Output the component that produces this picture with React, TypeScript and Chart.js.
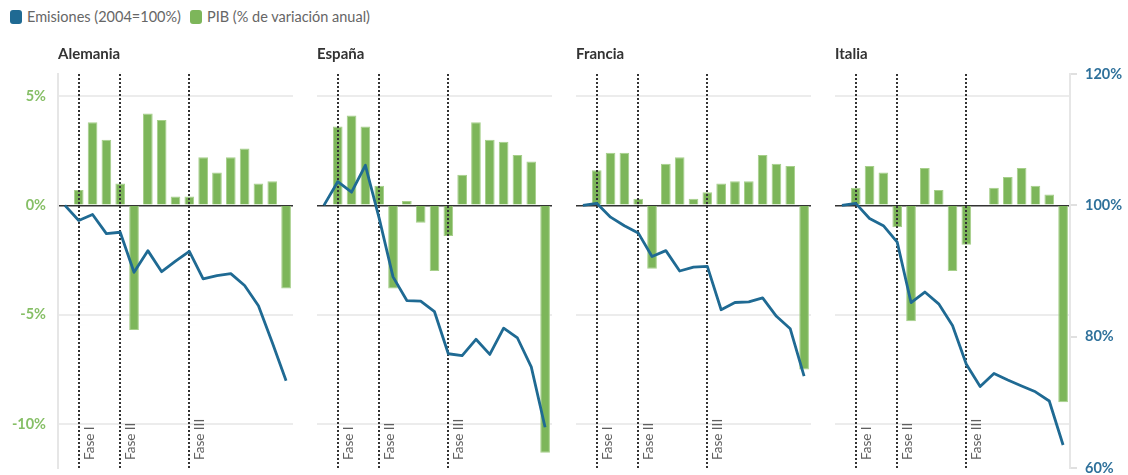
import React, { useEffect, useRef } from 'react';
import { Chart, registerables } from 'chart.js';

Chart.register(...registerables);

const years = ['2004', '2005', '2006', '2007', '2008', '2009', '2010', '2011', '2012', '2013', '2014', '2015', '2016', '2017', '2018', '2019', '2020'];
const countries = ['Alemania', 'España', 'Francia', 'Italia'];

const gdpAlemania = [null, 0.7, 3.8, 3.0, 1.0, -5.7, 4.2, 3.9, 0.4, 0.4, 2.2, 1.5, 2.2, 2.6, 1.0, 1.1, -3.8];
const gdpEspana = [null, 3.6, 4.1, 3.6, 0.9, -3.8, 0.2, -0.8, -3.0, -1.4, 1.4, 3.8, 3.0, 2.9, 2.3, 2.0, -11.3];
const gdpFrancia = [null, 1.6, 2.4, 2.4, 0.3, -2.9, 1.9, 2.2, 0.3, 0.6, 1.0, 1.1, 1.1, 2.3, 1.9, 1.8, -7.5];
const gdpItalia = [null, 0.8, 1.8, 1.5, -1.0, -5.3, 1.7, 0.7, -3.0, -1.8, 0.0, 0.8, 1.3, 1.7, 0.9, 0.5, -9.0];

const emiAlemania = [100, 97.7, 98.6, 95.7, 95.9, 89.8, 93.1, 89.9, 91.5, 93.0, 88.8, 89.3, 89.6, 87.8, 84.7, 79.1, 73.3];
const emiEspana = [100, 103.6, 102.0, 106.1, 98.0, 89.1, 85.5, 85.4, 83.8, 77.4, 77.1, 79.6, 77.3, 81.3, 79.8, 75.4, 66.2];
const emiFrancia = [100, 100.3, 98.2, 96.9, 95.8, 92.2, 93.1, 90.0, 90.6, 90.7, 84.1, 85.2, 85.3, 85.9, 83.1, 81.2, 74.0];
const emiItalia = [100, 100.3, 98.0, 96.9, 94.4, 85.2, 86.8, 85.0, 81.7, 75.8, 72.4, 74.4, 73.4, 72.5, 71.6, 70.2, 63.5];

const gdpSeries = [gdpAlemania, gdpEspana, gdpFrancia, gdpItalia];
const emiSeries = [emiAlemania, emiEspana, emiFrancia, emiItalia];

const phaseYears = ['2005', '2008', '2013'];
const phaseLabels = ['Fase I', 'Fase II', 'Fase III'];

const gdpTicks = [-10, -5, 0, 5];
const gdpMin = -12;
const gdpMax = 6;
const emiMin = 60;
const emiMax = 120;
const emiStep = 20;

const FONT = 'Lato, "Open Sans", "DejaVu Sans", sans-serif';
const BLUE = '#1f6a93';
const GREEN = '#7db65a';
const GREEN_EDGE = '#a6cf8a';
const GREEN_LABEL = '#86bf66';
const BLUE_LABEL = '#2f719b';

const PLOT_W = 235;
const AXIS_W = 58;
const plotLefts = [58, 317, 576, 835];

const zeroPadding = (s: any) => {
  s.paddingTop = 0;
  s.paddingBottom = 0;
  s.paddingLeft = 0;
  s.paddingRight = 0;
};

const panelPlugin = {
  id: 'panel',
  afterDatasetDraw(chart: any, args: any) {
    if (args.meta.type !== 'bar') return;
    const ctx = chart.ctx;
    const { top, bottom } = chart.chartArea;
    const xs = chart.scales.x;
    ctx.save();
    phaseYears.forEach((yr, i) => {
      const x = Math.round(xs.getPixelForValue(years.indexOf(yr)));
      ctx.beginPath();
      ctx.setLineDash([2, 2]);
      ctx.strokeStyle = '#333';
      ctx.lineWidth = 2;
      ctx.moveTo(x, top);
      ctx.lineTo(x, bottom);
      ctx.stroke();
      ctx.setLineDash([]);
      ctx.save();
      ctx.translate(x + 14.5, bottom - 8);
      ctx.rotate(-Math.PI / 2);
      ctx.font = '13.5px ' + FONT;
      ctx.fillStyle = '#5f5f5f';
      ctx.textAlign = 'left';
      ctx.textBaseline = 'alphabetic';
      ctx.fillText(phaseLabels[i], 0, 0);
      ctx.restore();
    });
    ctx.restore();
  },
  afterDraw(chart: any, _args: any, opts: any) {
    const ctx = chart.ctx;
    ctx.save();
    ctx.font = 'bold 15px ' + FONT;
    ctx.fillStyle = '#333';
    ctx.textAlign = 'left';
    ctx.textBaseline = 'alphabetic';
    ctx.fillText(opts.title, chart.chartArea.left, 59);
    ctx.restore();
  },
};

function Panel({ index }: { index: number }) {
  const ref = useRef<HTMLCanvasElement>(null);
  const first = index === 0;
  const last = index === countries.length - 1;
  const width = PLOT_W + (first ? AXIS_W : 0) + (last ? AXIS_W : 0);
  const left = first ? plotLefts[index] - AXIS_W : plotLefts[index];

  useEffect(() => {
    const chart = new Chart(ref.current!, {
      type: 'bar',
      data: {
        labels: years,
        datasets: [
          {
            type: 'line',
            data: emiSeries[index],
            yAxisID: 'y1',
            borderColor: BLUE,
            borderWidth: 2.8,
            pointRadius: 0,
            tension: 0,
            borderJoinStyle: 'round',
            order: 0,
          } as any,
          {
            type: 'bar',
            data: gdpSeries[index],
            yAxisID: 'y',
            backgroundColor: GREEN,
            borderColor: GREEN_EDGE,
            borderWidth: 1,
            barPercentage: 0.7,
            categoryPercentage: 1,
            order: 1,
          } as any,
        ],
      },
      options: {
        animation: false,
        responsive: false,
        layout: { padding: { top: 74, bottom: 7, left: 0, right: 0 } },
        plugins: {
          legend: { display: false },
          tooltip: { enabled: false },
          panel: { title: countries[index] },
        } as any,
        scales: {
          x: { display: false, offset: true, afterFit: zeroPadding },
          y: {
            position: 'left',
            min: gdpMin,
            max: gdpMax,
            afterBuildTicks: (s: any) => {
              s.ticks = gdpTicks.map((v) => ({ value: v }));
            },
            afterFit: (s: any) => {
              s.width = first ? AXIS_W : 0;
              zeroPadding(s);
            },
            grid: {
              drawTicks: false,
              color: (c: any) => (c.tick && c.tick.value === 0 ? '#333' : '#ececec'),
              lineWidth: (c: any) => (c.tick && c.tick.value === 0 ? 1.5 : 2),
            },
            border: { display: first, color: '#e6e6e6', width: 2 },
            ticks: {
              display: first,
              padding: 12,
              color: GREEN_LABEL,
              font: { family: FONT, size: 14.5, weight: 'bold' },
              callback: (v: any) => v + '%',
            },
          },
          y1: {
            position: 'right',
            display: last,
            min: emiMin,
            max: emiMax,
            afterFit: (s: any) => {
              s.width = last ? AXIS_W : 0;
              zeroPadding(s);
            },
            grid: {
              drawOnChartArea: false,
              drawTicks: true,
              tickLength: 7,
              tickColor: '#e0e0e0',
              lineWidth: 2,
            },
            border: { display: true, color: '#e6e6e6', width: 2 },
            ticks: {
              stepSize: emiStep,
              padding: 8,
              color: BLUE_LABEL,
              font: { family: FONT, size: 14.5, weight: 'bold' },
              callback: (v: any) => v + '%',
            },
          },
        },
      } as any,
      plugins: [panelPlugin as any],
    });
    return () => chart.destroy();
  }, [index]);

  return (
    <canvas
      ref={ref}
      width={width}
      height={475}
      style={{ position: 'absolute', left, top: 0, width, height: 475 }}
    />
  );
}

function LegendItem({ color, label }: { color: string; label: string }) {
  return (
    <span style={{ display: 'inline-flex', alignItems: 'center', marginRight: 9 }}>
      <span
        style={{
          display: 'inline-block',
          width: 12,
          height: 14,
          borderRadius: 3,
          background: color,
          marginRight: 5,
        }}
      />
      <span>{label}</span>
    </span>
  );
}

export default function App() {
  return (
    <div
      style={{
        position: 'fixed',
        left: 0,
        top: 0,
        width: 1128,
        height: 475,
        background: '#fff',
        fontFamily: FONT,
      }}
    >
      <div
        style={{
          position: 'absolute',
          left: 10,
          top: 8,
          fontSize: 14.5,
          color: '#666',
          display: 'flex',
          alignItems: 'center',
          lineHeight: '18px',
          whiteSpace: 'nowrap',
        }}
      >
        <LegendItem color={BLUE} label="Emisiones (2004=100%)" />
        <LegendItem color={GREEN} label="PIB (% de variación anual)" />
      </div>
      {countries.map((c, i) => (
        <Panel key={c} index={i} />
      ))}
    </div>
  );
}
